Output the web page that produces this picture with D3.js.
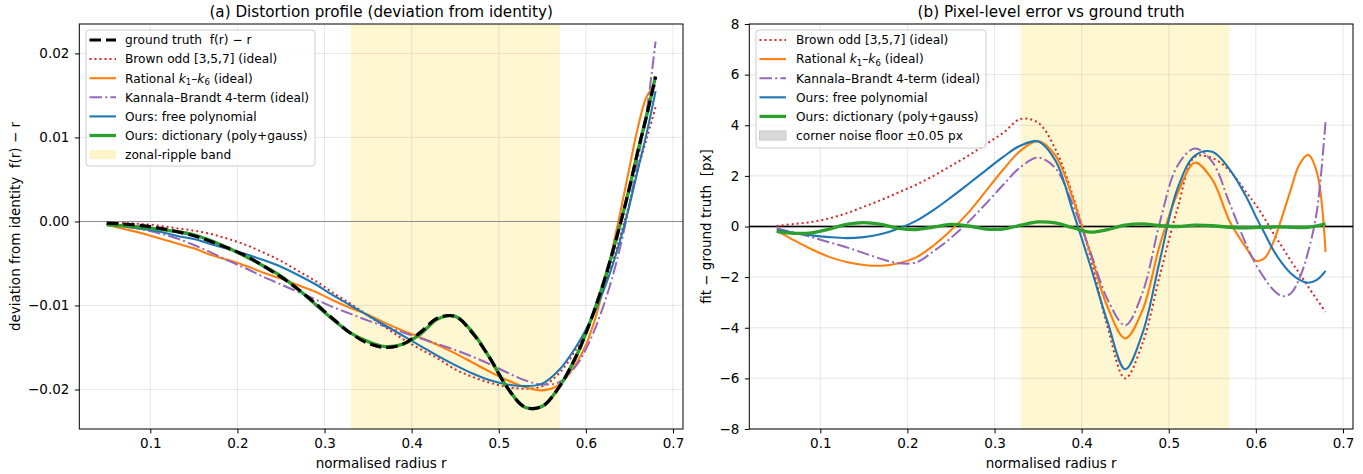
<!DOCTYPE html>
<html>
<head>
<meta charset="utf-8">
<script src="https://cdn.jsdelivr.net/npm/d3@7"></script>
<style>
  body { margin: 0; background: #fff; }
  text { font-family: "DejaVu Sans", sans-serif; fill: #000; }
</style>
</head>
<body>
<svg id="fig" width="1363" height="474"></svg>
<script>
// sample positions (normalised radius r)
const radius = [0.05,0.07,0.09,0.11,0.13,0.15,0.17,0.19,0.21,0.23,0.25,0.27,0.29,0.31,0.33,0.35,0.37,0.39,0.41,0.43,0.45,0.47,0.49,0.51,0.53,0.55,0.57,0.59,
                0.60,0.61,0.62,0.63,0.64,0.65,0.66,0.67,0.68];

// (a) deviation from identity f(r) - r
const groundTruth = [-0.0002,-0.0003,-0.0005,-0.0008,-0.0012,-0.0017,-0.0024,-0.0032,-0.0041,-0.0053,-0.0066,-0.0081,-0.0098,-0.0116,-0.0133,-0.0145,-0.0150,-0.0146,-0.0132,-0.0115,-0.0113,-0.0133,-0.0163,-0.0198,-0.0221,-0.0220,-0.0196,-0.0158,
                     -0.0133,-0.0105,-0.0074,-0.0039,-0.0001,0.0040,0.0085,0.0127,0.0172];
const brownDev = [-0.0002,-0.0002,-0.0003,-0.0005,-0.0008,-0.0011,-0.0015,-0.0021,-0.0028,-0.0037,-0.0047,-0.0059,-0.0071,-0.0085,-0.0098,-0.0112,-0.0126,-0.0140,-0.0152,-0.0163,-0.0176,-0.0185,-0.0192,-0.0197,-0.0199,-0.0196,-0.0180,-0.0150,
                  -0.0130,-0.0106,-0.0080,-0.0050,-0.0016,0.0022,0.0063,0.0099,0.0136];
const rationalDev = [-0.0004,-0.0009,-0.0014,-0.0020,-0.0026,-0.0032,-0.0040,-0.0046,-0.0053,-0.0061,-0.0068,-0.0076,-0.0084,-0.0094,-0.0103,-0.0111,-0.0121,-0.0130,-0.0138,-0.0147,-0.0157,-0.0168,-0.0179,-0.0189,-0.0197,-0.0201,-0.0194,-0.0167,
                     -0.0147,-0.0118,-0.0080,-0.0035,0.0013,0.0064,0.0113,0.0149,0.0162];
const kbDev = [-0.0003,-0.0006,-0.0009,-0.0014,-0.0020,-0.0028,-0.0037,-0.0047,-0.0056,-0.0066,-0.0075,-0.0084,-0.0093,-0.0102,-0.0110,-0.0118,-0.0125,-0.0132,-0.0139,-0.0146,-0.0153,-0.0161,-0.0170,-0.0180,-0.0189,-0.0194,-0.0191,-0.0170,
               -0.0152,-0.0129,-0.0101,-0.0068,-0.0028,0.0020,0.0075,0.0133,0.0214];
const freePolyDev = [-0.0003,-0.0006,-0.0009,-0.0012,-0.0017,-0.0021,-0.0027,-0.0033,-0.0039,-0.0046,-0.0054,-0.0064,-0.0075,-0.0088,-0.0100,-0.0112,-0.0124,-0.0136,-0.0148,-0.0160,-0.0171,-0.0181,-0.0189,-0.0194,-0.0196,-0.0193,-0.0176,-0.0147,
                     -0.0129,-0.0108,-0.0083,-0.0054,-0.0020,0.0019,0.0063,0.0106,0.0155];
const dictDev = [-0.0004,-0.0005,-0.0007,-0.0009,-0.0012,-0.0016,-0.0023,-0.0032,-0.0042,-0.0053,-0.0065,-0.0081,-0.0099,-0.0117,-0.0133,-0.0143,-0.0149,-0.0146,-0.0134,-0.0116,-0.0113,-0.0132,-0.0163,-0.0198,-0.0221,-0.0220,-0.0196,-0.0158,
                 -0.0133,-0.0105,-0.0074,-0.0039,-0.0001,0.0040,0.0085,0.0127,0.0173];

// (b) fit - ground truth [px]
const brownErr = [0.02,0.1,0.18,0.32,0.52,0.78,1.05,1.35,1.65,2.0,2.4,2.8,3.25,3.7,4.25,4.1,3.05,1.2,-1.2,-4.0,-6.0,-4.6,-1.9,0.7,2.75,2.7,2.2,1.3,
                  0.85,0.32,-0.27,-0.8,-1.35,-1.85,-2.38,-2.88,-3.37];
const rationalErr = [-0.16,-0.55,-0.9,-1.2,-1.4,-1.52,-1.55,-1.45,-1.22,-0.75,-0.15,0.55,1.4,2.25,3.0,3.38,2.8,1.1,-1.05,-3.2,-4.42,-3.3,-0.7,1.3,2.52,1.85,0.2,-0.9,
                     -1.35,-1.25,-0.62,0.37,1.45,2.45,2.83,2.15,-1.0];
const kbErr = [-0.07,-0.25,-0.42,-0.62,-0.82,-1.05,-1.28,-1.45,-1.42,-0.98,-0.45,0.18,0.9,1.65,2.35,2.72,2.3,0.85,-1.0,-2.9,-3.9,-2.6,0.2,2.4,3.08,2.55,0.9,-0.8,
               -1.5,-2.05,-2.5,-2.75,-2.65,-2.05,-1.0,0.6,4.15];
const freePolyErr = [-0.13,-0.25,-0.35,-0.42,-0.46,-0.42,-0.3,-0.08,0.22,0.65,1.15,1.68,2.22,2.75,3.2,3.36,2.6,0.6,-1.55,-3.8,-5.64,-4.2,-1.3,1.5,2.8,2.95,2.25,1.11,
                     0.39,-0.27,-0.93,-1.45,-1.85,-2.11,-2.22,-2.11,-1.75];
const dictErr = [-0.2,-0.27,-0.25,-0.1,0.08,0.15,0.08,-0.07,-0.12,-0.02,0.08,0.02,-0.1,-0.1,0.05,0.18,0.14,-0.05,-0.22,-0.12,0.05,0.1,0.03,0.0,0.05,0.03,-0.03,-0.05,
                 -0.04,-0.03,-0.02,-0.02,-0.03,-0.04,-0.03,0.02,0.1];

const xTicks = [0.1,0.2,0.3,0.4,0.5,0.6,0.7];
const devTicks = [-0.02,-0.01,0,0.01,0.02];
const errTicks = [-8,-6,-4,-2,0,2,4,6,8];
const rippleBand = [0.33,0.57];
const noiseFloor = 0.05;

const svg = d3.select('#fig');
const minus = s => s.replace('-', '\u2212');

function drawPanel(p) {
    const g = svg.append('g');
    const x = d3.scaleLinear().domain([0.0185, 0.7115]).range([p.left, p.right]);
    const y = d3.scaleLinear().domain(p.yDomain).range([p.bottom, p.top]);

    //clip for the curves
    const clipId = 'clip' + p.id;
    svg.append('clipPath').attr('id', clipId)
        .append('rect').attr('x', p.left).attr('y', p.top)
        .attr('width', p.right - p.left).attr('height', p.bottom - p.top);

    //zonal ripple band
    g.append('rect')
        .attr('x', x(rippleBand[0])).attr('y', p.top)
        .attr('width', x(rippleBand[1]) - x(rippleBand[0]))
        .attr('height', p.bottom - p.top)
        .attr('fill', '#fff6d2');

    //grid
    g.selectAll('.gx').data(xTicks).join('line')
        .attr('x1', d => x(d)).attr('x2', d => x(d))
        .attr('y1', p.top).attr('y2', p.bottom)
        .attr('stroke', '#b0b0b0').attr('stroke-opacity', 0.3).attr('stroke-width', 1);
    g.selectAll('.gy').data(p.yTicks).join('line')
        .attr('x1', p.left).attr('x2', p.right)
        .attr('y1', d => y(d)).attr('y2', d => y(d))
        .attr('stroke', '#b0b0b0').attr('stroke-opacity', 0.3).attr('stroke-width', 1);

    if (p.noise) {
        g.append('rect')
            .attr('x', p.left).attr('width', p.right - p.left)
            .attr('y', y(noiseFloor)).attr('height', y(-noiseFloor) - y(noiseFloor))
            .attr('fill', 'gray').attr('opacity', 0.3);
    }

    //zero line
    g.append('line')
        .attr('x1', p.left).attr('x2', p.right)
        .attr('y1', y(0)).attr('y2', y(0))
        .attr('stroke', p.zeroColor).attr('stroke-width', p.zeroWidth);

    //curves
    const line = d3.line()
        .x((d, i) => x(radius[i]))
        .y(d => y(d))
        .curve(d3.curveCatmullRom.alpha(0.5));
    const cg = g.append('g').attr('clip-path', `url(#${clipId})`);
    p.series.forEach(s => {
        cg.append('path')
            .datum(s.values)
            .attr('fill', 'none')
            .attr('stroke', s.color)
            .attr('stroke-width', s.width)
            .attr('stroke-dasharray', s.dash || null)
            .attr('stroke-linejoin', 'round')
            .attr('d', line);
    });

    //axes
    const xAxis = d3.axisBottom(x).tickValues(xTicks).tickSize(4.4).tickPadding(5).tickFormat(d3.format('.1f'));
    const yAxis = d3.axisLeft(y).tickValues(p.yTicks).tickSize(4.4).tickPadding(5.5).tickFormat(d => minus(p.fmt(d)));
    const gx = g.append('g').attr('transform', `translate(0,${p.bottom})`).call(xAxis);
    const gy = g.append('g').attr('transform', `translate(${p.left},0)`).call(yAxis);
    [gx, gy].forEach(a => {
        a.select('.domain').remove();
        a.selectAll('text').style('font-size', '13.5px').attr('fill', '#000');
        a.selectAll('line').attr('stroke', '#000').attr('stroke-width', 1);
    });

    //frame
    g.append('rect')
        .attr('x', p.left).attr('y', p.top)
        .attr('width', p.right - p.left).attr('height', p.bottom - p.top)
        .attr('fill', 'none').attr('stroke', '#000').attr('stroke-width', 1);

    //title and labels
    g.append('text')
        .attr('x', (p.left + p.right) / 2).attr('y', 17)
        .attr('text-anchor', 'middle').style('font-size', '15.2px')
        .text(p.title);
    g.append('text')
        .attr('x', (p.left + p.right) / 2).attr('y', 467.5)
        .attr('text-anchor', 'middle').style('font-size', '13.5px')
        .text('normalised radius r');
    g.append('text')
        .attr('transform', `translate(${p.yLabelX},${(p.top + p.bottom) / 2}) rotate(-90)`)
        .attr('text-anchor', 'middle').style('font-size', '13.5px')
        .style('white-space', 'pre')
        .text(p.yLabel);

    //legend
    const lg = g.append('g');
    lg.append('rect')
        .attr('x', p.legend.x).attr('y', p.legend.y)
        .attr('width', p.legend.w).attr('height', p.legend.h)
        .attr('rx', 3)
        .attr('fill', '#fff').attr('fill-opacity', 0.8)
        .attr('stroke', '#cccccc').attr('stroke-width', 1);
    p.legendItems.forEach((s, i) => {
        const cy = p.legend.y + 10 + i * 19.1;
        const hx = p.legend.x + 3.5;
        if (s.patch) {
            lg.append('rect')
                .attr('x', hx).attr('y', cy - 4.5).attr('width', 26.5).attr('height', 9)
                .attr('fill', s.patch).attr('stroke', s.patchEdge || 'none');
        } else {
            lg.append('line')
                .attr('x1', hx).attr('x2', hx + 26.5)
                .attr('y1', cy).attr('y2', cy)
                .attr('stroke', s.color).attr('stroke-width', s.width)
                .attr('stroke-dasharray', s.dash || null);
        }
        const t = lg.append('text')
            .attr('x', hx + p.legend.textOff).attr('y', cy + 4.3)
            .style('font-size', '12.2px').style('white-space', 'pre');
        s.label.forEach(part => {
            const ts = t.append('tspan').text(part.t);
            if (part.it) ts.style('font-style', 'italic');
            if (part.sub) ts.style('font-size', '8.5px').attr('dy', 2.8);
            if (part.up) ts.attr('dy', -2.8);
        });
    });
}

const C = { brown: '#d62728', rational: '#ff7f0e', kb: '#9467bd', free: '#1f77b4', dict: '#2ca02c' };
const rationalLabel = [{t: 'Rational '}, {t: 'k', it: true}, {t: '1', sub: true}, {t: '\u2013', up: true}, {t: 'k', it: true}, {t: '6', sub: true}, {t: ' (ideal)', up: true}];
const brownItem = {label: [{t: 'Brown odd [3,5,7] (ideal)'}], color: C.brown, width: 2, dash: '2,3'};
const rationalItem = {label: rationalLabel, color: C.rational, width: 2.1};
const kbItem = {label: [{t: 'Kannala\u2013Brandt 4-term (ideal)'}], color: C.kb, width: 2, dash: '12.5,3.2,2,3.2'};
const freeItem = {label: [{t: 'Ours: free polynomial'}], color: C.free, width: 2.1};
const dictItem = {label: [{t: 'Ours: dictionary (poly+gauss)'}], color: C.dict, width: 3.3};

drawPanel({
    id: 'a', left: 79.3, right: 683, top: 24, bottom: 429,
    yDomain: [-0.0247, 0.0235], yTicks: devTicks, fmt: d3.format('.2f'),
    title: '(a) Distortion profile (deviation from identity)',
    yLabel: 'deviation from identity  f(r) \u2212 r', yLabelX: 19.5,
    zeroColor: '#8c8c8c', zeroWidth: 1.1,
    series: [
        {values: brownDev, color: C.brown, width: 2, dash: '2,3'},
        {values: rationalDev, color: C.rational, width: 2.1},
        {values: kbDev, color: C.kb, width: 2, dash: '12.5,3.2,2,3.2'},
        {values: freePolyDev, color: C.free, width: 2.1},
        {values: dictDev, color: C.dict, width: 3.3},
        {values: groundTruth, color: '#000', width: 3.2, dash: '11.5,5'}
    ],
    legend: {x: 86, y: 30, w: 229, h: 136, textOff: 35.5},
    legendItems: [
        {label: [{t: 'ground truth  f(r) \u2212 r'}], color: '#000', width: 3.2, dash: '11.5,5'},
        brownItem, rationalItem, kbItem, freeItem, dictItem,
        {label: [{t: 'zonal-ripple band'}], patch: '#fff3c8'}
    ]
});

drawPanel({
    id: 'b', left: 749.3, right: 1353, top: 24, bottom: 429,
    yDomain: [-8, 8], yTicks: errTicks, fmt: d3.format('d'),
    title: '(b) Pixel-level error vs ground truth',
    yLabel: 'fit \u2212 ground truth  [px]', yLabelX: 710.5,
    zeroColor: '#000', zeroWidth: 1.4, noise: true,
    series: [
        {values: brownErr, color: C.brown, width: 2, dash: '2,3'},
        {values: rationalErr, color: C.rational, width: 2.1},
        {values: kbErr, color: C.kb, width: 2, dash: '12.5,3.2,2,3.2'},
        {values: freePolyErr, color: C.free, width: 2.1},
        {values: dictErr, color: C.dict, width: 3.3}
    ],
    legend: {x: 756, y: 30, w: 230, h: 118, textOff: 36.5},
    legendItems: [
        brownItem, rationalItem, kbItem, freeItem, dictItem,
        {label: [{t: 'corner noise floor \u00b10.05 px'}], patch: '#d9d9d9', patchEdge: '#c8c8c8'}
    ]
});
</script>
</body>
</html>
